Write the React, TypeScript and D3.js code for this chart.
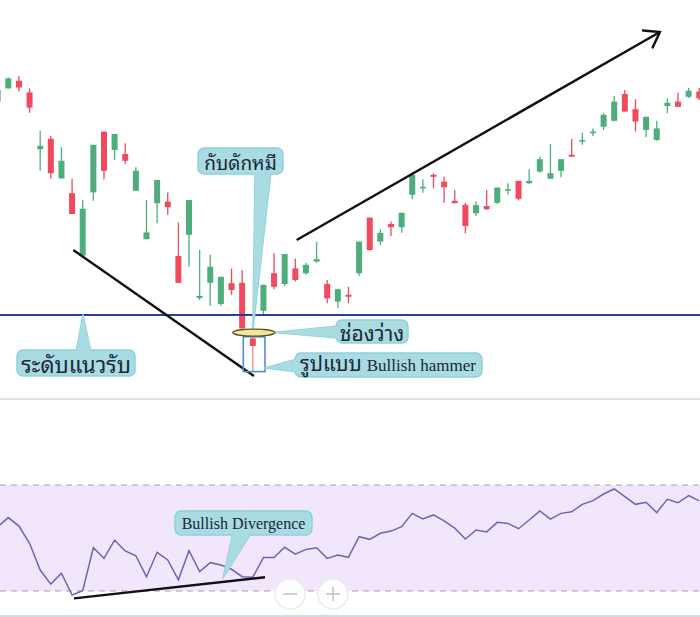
import React from "react";
import * as d3 from "d3";

// ---- data (price panel, one entry per session) ----
const OPEN = [174.6,177.9,179.8,176.9,162.7,165.3,155.4,151.7,136.1,151.9,167.1,162.5,161.5,152.3,140.2,149.2,149.6,136.0,141.3,125.5,129.3,124.0,129.2,129.3,115.4,122.3,131.7,129.0,132.9,131.7,134.6,129.0,124.6,126.3,131.7,145.6,139.6,144.0,143.2,151.3,152.9,156.3,154.6,149.8,148.8,146.7,148.5,149.3,152.3,154.8,154.2,157.1,155.3,157.3,161.3,164.7,166.8,168.3,169.8,176.5,172.7,167.5,165.0,173.5,174.6,175.8,177.1];
const HIGH = [178.0,180.7,181.0,177.9,167.3,166.0,163.2,155.3,150.0,163.8,167.1,166.5,164.2,158.2,150.0,155.0,151.9,144.4,150.0,137.5,136.3,130.8,132.9,132.5,115.8,128.8,136.7,136.5,135.4,134.3,139.6,130.0,127.8,128.3,139.6,145.6,142.7,144.6,146.8,156.3,155.2,156.7,155.8,152.5,149.3,149.6,152.5,153.1,154.2,154.8,157.7,160.8,164.0,160.2,165.3,166.8,167.9,171.7,176.0,177.5,175.2,170.8,169.8,175.4,176.8,178.0,178.0];
const LOW = [174.3,177.9,177.1,171.8,157.3,155.4,155.4,146.5,136.1,149.8,155.2,160.0,159.0,152.3,140.2,144.2,146.3,129.3,133.3,125.0,123.5,123.5,126.3,117.9,107.1,121.0,127.7,128.5,129.6,131.3,134.3,124.2,123.0,124.2,131.0,137.3,138.8,141.0,141.8,150.2,151.8,152.9,149.3,149.2,141.7,146.0,147.5,149.0,151.3,149.9,154.0,156.8,155.3,155.7,160.8,163.8,166.0,167.5,169.6,172.1,167.1,165.7,164.8,171.7,173.3,175.5,175.0];
const CLOSE = [177.5,180.4,178.1,173.1,163.5,156.7,159.8,146.5,147.8,163.8,157.3,166.5,159.8,157.3,141.9,155.0,148.2,129.3,150.0,126.0,133.3,130.8,127.5,117.9,113.5,128.8,128.3,136.5,130.0,133.8,135.2,125.4,127.7,125.8,139.6,137.5,141.8,143.2,146.8,156.3,153.3,155.8,153.2,149.2,143.5,148.7,147.7,153.1,152.7,150.3,154.8,160.2,156.7,160.2,160.8,165.0,167.1,171.3,174.6,172.1,169.6,170.8,167.9,174.3,173.3,177.3,175.4];

// ---- RSI panel ----
const RSI = [54.2,57.7,54.5,48.0,37.9,32.6,36.7,28.5,30.1,46.3,42.3,49.2,45.1,43.3,35.4,44.6,41.7,34.2,45.2,37.3,40.7,39.8,38.2,35.4,35.2,42.6,42.6,46.5,43.9,45.7,46.3,42.3,43.6,42.7,50.5,49.5,51.8,52.6,54.3,59.3,57.2,58.7,56.5,53.7,49.6,53.0,52.3,55.9,55.5,53.5,56.8,60.2,57.1,59.3,59.9,62.7,64.1,66.6,68.5,65.6,62.7,63.5,59.6,64.6,63.3,66.0,64.0];
const RSI_LEVELS = [70, 30];

// ---- annotation values ----
const SUPPORT_PRICE = 121.25;
const DOWN_TREND = [[7.11, 137.5], [24.11, 106.0]];
const UP_TREND = [[28.13, 140.0], [62.3, 192.0]];
const RSI_TREND = [[7.18, 27.2], [25.15, 35.2]];
const HAMMER_INDEX = 24;

const LABEL_TRAP = "กับดักหมี";
const LABEL_GAP = "ช่องว่าง";
const LABEL_PATTERN = "รูปแบบ";
const LABEL_HAMMER = "Bullish hammer";
const LABEL_SUPPORT = "ระดับแนวรับ";
const LABEL_DIV = "Bullish Divergence";

const W = 700;
const H = 617;
const UP = "#4dae7c";
const DOWN = "#ef4a5d";
const BUBBLE = "#a9dbe2";
const BUBBLE_STROKE = "#92d0d9";
const TEXT = "#1a2838";
const THAI = "'Noto Sans Thai Looped', 'Noto Sans Thai', 'Noto Sans', sans-serif";
const SERIF = "'Liberation Serif', 'DejaVu Serif', serif";

function Bubble({ x, y, w, h, wedge }: { x: number; y: number; w: number; h: number; wedge: number[][] }) {
  const pts = wedge.map((p) => p.join(",")).join(" ");
  return (
    <g>
      <polygon points={pts} fill={BUBBLE} stroke={BUBBLE_STROKE} strokeWidth={1.5} strokeLinejoin="round" />
      <rect x={x} y={y} width={w} height={h} rx={6} fill={BUBBLE} stroke={BUBBLE_STROKE} strokeWidth={1.5} />
      <polygon points={pts} fill={BUBBLE} stroke="none" />
    </g>
  );
}

export default function App() {
  const n = OPEN.length;
  const xS = d3.scaleLinear().domain([0, n - 1]).range([-2.33, -2.33 + (n - 1) * 10.63]);
  const yP = d3.scaleLinear().domain([100, 200]).range([400, 0]);
  const yR = d3.scaleLinear().domain([30, 70]).range([591, 485]);
  const bw = 6;

  const rsiLine = d3.line<number>().x((_, i) => xS(i)).y((v) => yR(v));
  const priceLine = d3.line<number[]>().x((d) => xS(d[0])).y((d) => yP(d[1]));
  const rsiTrend = d3.line<number[]>().x((d) => xS(d[0])).y((d) => yR(d[1]));

  // arrow head at the end of the up trend
  const [a0, a1] = UP_TREND;
  const tx = xS(a1[0]), ty = yP(a1[1]);
  const sx = xS(a0[0]), sy = yP(a0[1]);
  const ang = Math.atan2(sy - ty, sx - tx);
  const L = 17, spread = (35 * Math.PI) / 180;
  const head = `M${tx + L * Math.cos(ang + spread)},${ty + L * Math.sin(ang + spread)} L${tx},${ty} L${tx + L * Math.cos(ang - spread)},${ty + L * Math.sin(ang - spread)}`;

  const hx = xS(HAMMER_INDEX);
  const hTop = yP(HIGH[HAMMER_INDEX]);
  const hBot = yP(LOW[HAMMER_INDEX]);
  const gapY = (yP(LOW[HAMMER_INDEX - 1]) + hTop) / 2;
  const supY = yP(SUPPORT_PRICE);

  return (
    <svg width={W} height={H} style={{ position: "absolute", left: 0, top: 0, background: "#fff" }}>
      <rect x={0} y={0} width={W} height={H} fill="#fff" />

      {/* candles */}
      {OPEN.map((o, i) => {
        const c = CLOSE[i];
        const col = c >= o ? UP : DOWN;
        const x = xS(i);
        const top = yP(Math.max(o, c));
        const bh = Math.max(1.6, Math.abs(yP(o) - yP(c)));
        return (
          <g key={i}>
            <line x1={x} x2={x} y1={yP(HIGH[i])} y2={yP(LOW[i])} stroke={i === HAMMER_INDEX ? "#f08a96" : col} strokeWidth={1.3} />
            <rect x={x - bw / 2} y={top} width={bw} height={bh} fill={col} />
          </g>
        );
      })}

      {/* support line */}
      <line x1={0} x2={W} y1={supY} y2={supY} stroke="#2b3f97" strokeWidth={2} />

      {/* trend lines */}
      <path d={priceLine(DOWN_TREND) || ""} stroke="#111" strokeWidth={2.4} fill="none" />
      <path d={priceLine(UP_TREND) || ""} stroke="#111" strokeWidth={2.4} fill="none" />
      <path d={head} stroke="#111" strokeWidth={2.4} fill="none" strokeLinejoin="miter" strokeLinecap="round" />

      {/* hammer box */}
      <rect x={hx - 9.5} y={hTop} width={21.7} height={hBot - hTop} fill="none" stroke="#4a8fd6" strokeWidth={1.6} />

      {/* callouts */}
      <Bubble x={198} y={148} w={85} h={26} wedge={[[255, 172], [271, 172], [hx, gapY - 1]]} />
      <text x={240.5} y={161} textAnchor="middle" dominantBaseline="central" fontFamily={THAI} fontSize={19} fill={TEXT}>{LABEL_TRAP}</text>

      <Bubble x={17} y={350} w={118} h={26} wedge={[[76, 352], [91, 352], [83, supY]]} />
      <text x={76} y={363} textAnchor="middle" dominantBaseline="central" fontFamily={THAI} fontSize={22} fill={TEXT}>{LABEL_SUPPORT}</text>

      <Bubble x={336} y={320} w={72} h={23} wedge={[[338, 326], [338, 338], [hx + 21, gapY]]} />
      <text x={372} y={331.5} textAnchor="middle" dominantBaseline="central" fontFamily={THAI} fontSize={21} fill={TEXT}>{LABEL_GAP}</text>

      <Bubble x={295} y={353} w={187} h={24} wedge={[[297, 359], [297, 372], [hx + 12, 368]]} />
      <text x={300} y={371} fill={TEXT}>
        <tspan fontFamily={THAI} fontSize={20.5}>{LABEL_PATTERN}</tspan>
        <tspan fontFamily={SERIF} fontSize={17} dx={5}>{LABEL_HAMMER}</tspan>
      </text>

      {/* gap ellipse */}
      <ellipse cx={hx + 1} cy={gapY} rx={21} ry={3.5} fill="#f3e59c" stroke="#5f5527" strokeWidth={1.4} />

      {/* separator */}
      <line x1={0} x2={W} y1={399} y2={399} stroke="#d7d7d7" strokeWidth={1.5} />

      {/* RSI panel */}
      <rect x={0} y={yR(70)} width={W} height={yR(30) - yR(70)} fill="#f2e6fc" />
      {RSI_LEVELS.map((v) => (
        <line key={v} x1={0} x2={W} y1={yR(v)} y2={yR(v)} stroke="#a3a0a8" strokeWidth={1.2} strokeDasharray="6,5" />
      ))}
      <path d={rsiLine(RSI) || ""} fill="none" stroke="#6a66b6" strokeWidth={1.5} />
      <path d={rsiTrend(RSI_TREND) || ""} stroke="#111" strokeWidth={2.4} fill="none" />

      <Bubble x={175} y={511} w={137} h={24} wedge={[[233, 533], [251, 533], [223, 578]]} />
      <text x={243.5} y={523} textAnchor="middle" dominantBaseline="central" fontFamily={SERIF} fontSize={16} fill={TEXT}>{LABEL_DIV}</text>

      {/* zoom buttons */}
      {[290, 333].map((cx, k) => (
        <g key={cx}>
          <circle cx={cx} cy={594} r={15} fill="#ffffff" fillOpacity={0.9} stroke="#ececec" strokeWidth={1.5} />
          <line x1={cx - 7} x2={cx + 7} y1={594} y2={594} stroke="#c4c4c4" strokeWidth={1.6} />
          {k === 1 && <line x1={cx} x2={cx} y1={587} y2={601} stroke="#c4c4c4" strokeWidth={1.6} />}
        </g>
      ))}

      <line x1={0} x2={W} y1={616} y2={616} stroke="#c9cdd3" strokeWidth={1.5} />
    </svg>
  );
}
